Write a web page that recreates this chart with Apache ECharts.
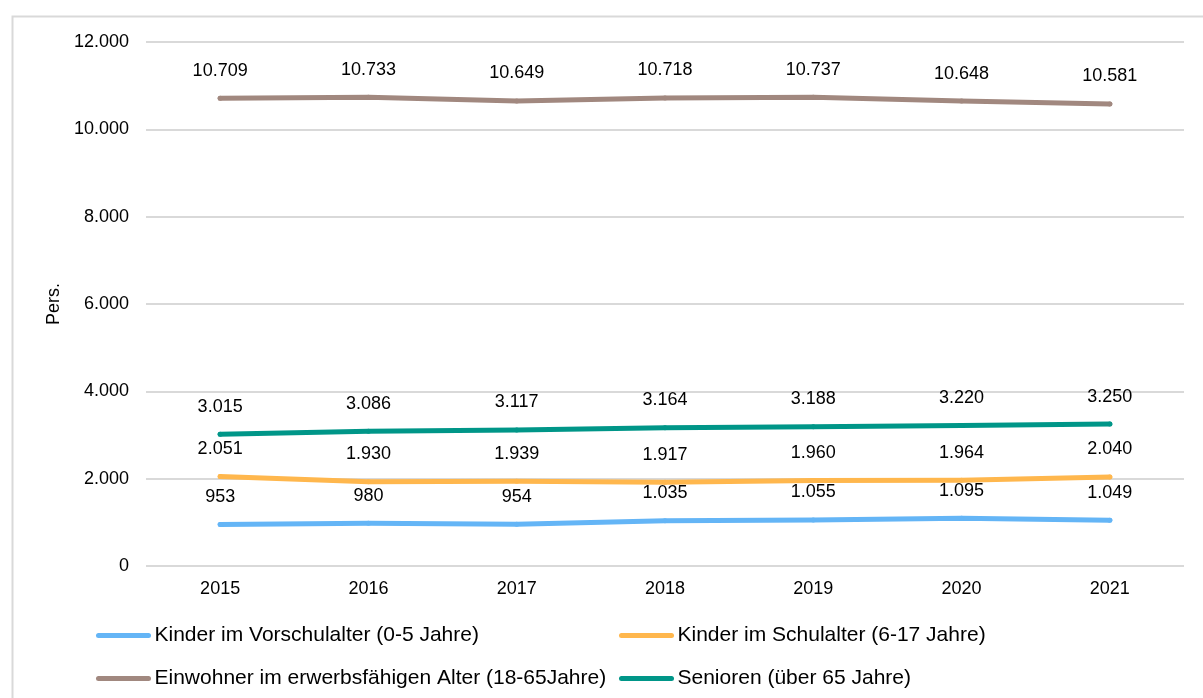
<!DOCTYPE html>
<html>
<head>
<meta charset="utf-8">
<script src="https://cdn.jsdelivr.net/npm/echarts@6/dist/echarts.min.js"></script>
<style>
  html, body { margin: 0; padding: 0; background: #fff; }
  #chart { width: 1203px; height: 698px; }
</style>
</head>
<body>
<div id="chart"></div>
<script>
const years = ['2015', '2016', '2017', '2018', '2019', '2020', '2021'];
const names = [
  'Kinder im Vorschulalter (0-5 Jahre)',
  'Kinder im Schulalter (6-17 Jahre)',
  'Einwohner im erwerbsfähigen Alter (18-65Jahre)',
  'Senioren (über 65 Jahre)'
];
const vorschul = [953, 980, 954, 1035, 1055, 1095, 1049];
const schul = [2051, 1930, 1939, 1917, 1960, 1964, 2040];
const erwerb = [10709, 10733, 10649, 10718, 10737, 10648, 10581];
const senioren = [3015, 3086, 3117, 3164, 3188, 3220, 3250];
const colors = ['#64b5f6', '#ffb74d', '#a1887f', '#009688'];

// 1.234 statt 1,234
function fmt(v) {
  return String(Math.round(v)).replace(/\B(?=(\d{3})+(?!\d))/g, '.');
}

const font = 'Liberation Sans, Arial, sans-serif';
const capsule = 'path://M2.5,0 L52.5,0 A2.5,2.5 0 0 1 52.5,5 L2.5,5 A2.5,2.5 0 0 1 2.5,0 Z';

function makeSeries(name, data, color) {
  return {
    name: name,
    type: 'line',
    data: data,
    color: color,
    // labels need symbols, so keep tiny dots in the line colour
    showSymbol: true,
    symbol: 'circle',
    symbolSize: 5,
    itemStyle: { color: color, borderWidth: 0 },
    lineStyle: { width: 5, cap: 'round', join: 'round', color: color },
    label: {
      show: true,
      position: 'top',
      distance: 16,
      color: '#000',
      fontSize: 18,
      fontFamily: font,
      formatter: p => fmt(p.value)
    },
    emphasis: { disabled: true }
  };
}

const chart = echarts.init(document.getElementById('chart'));
const legendText = { color: '#000', fontSize: 21, lineHeight: 21, fontFamily: font };

chart.setOption({
  backgroundColor: '#ffffff',
  animation: false,
  textStyle: { fontFamily: font },
  grid: { left: 146, right: 19, top: 42, bottom: 132 },
  graphic: [{
    type: 'rect',
    left: 10, top: 14,
    shape: { width: 1210, height: 710 },
    style: { fill: 'none', stroke: '#d9d9d9', lineWidth: 2 },
    silent: true
  }],
  legend: [{
    data: [names[0], names[2]],
    orient: 'vertical',
    left: 91, top: 620,
    itemWidth: 56, itemHeight: 5, itemGap: 22,
    icon: capsule,
    textStyle: Object.assign({ padding: [0, 0, 0, -2] }, legendText)
  }, {
    data: [names[1], names[3]],
    orient: 'vertical',
    left: 614, top: 620,
    itemWidth: 56, itemHeight: 5, itemGap: 22,
    icon: capsule,
    textStyle: Object.assign({ padding: [0, 0, 0, -2] }, legendText)
  }],
  xAxis: {
    type: 'category',
    data: years,
    boundaryGap: true,
    axisLine: { show: false },
    axisTick: { show: false },
    axisLabel: { color: '#000', fontSize: 18, margin: 14, fontFamily: font }
  },
  yAxis: {
    type: 'value',
    min: 0, max: 12000, interval: 2000,
    name: 'Pers.',
    nameLocation: 'middle',
    nameGap: 83,
    nameTextStyle: { color: '#000', fontSize: 18, fontFamily: font },
    axisLine: { show: false },
    axisTick: { show: false },
    axisLabel: { color: '#000', fontSize: 18, margin: 17, fontFamily: font, formatter: v => fmt(v) },
    splitLine: { lineStyle: { color: '#d9d9d9', width: 2 } }
  },
  series: [
    makeSeries(names[0], vorschul, colors[0]),
    makeSeries(names[1], schul, colors[1]),
    makeSeries(names[2], erwerb, colors[2]),
    makeSeries(names[3], senioren, colors[3])
  ]
});
</script>
</body>
</html>
